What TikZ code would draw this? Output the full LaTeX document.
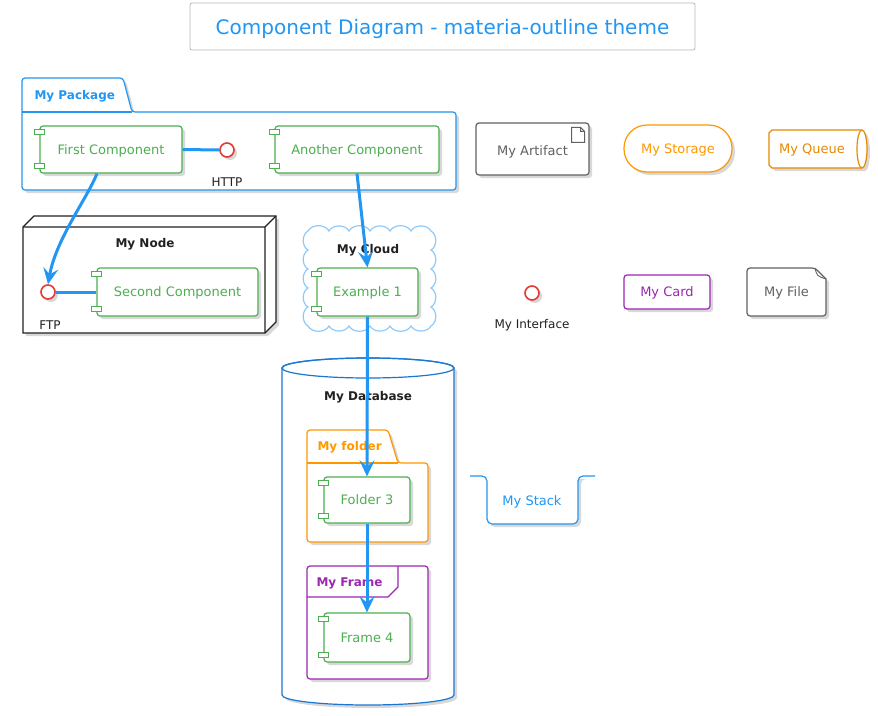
\documentclass[tikz,border=0pt]{standalone}
\usepackage{fontspec}
\setmainfont{DejaVu Sans}
\usepackage{xcolor}
\usetikzlibrary{arrows.meta,shadows}

\definecolor{mblue}{HTML}{2196F3}
\definecolor{mdb}{HTML}{1976D2}
\definecolor{mcloud}{HTML}{90CAF9}
\definecolor{mgreen}{HTML}{4CAF50}
\definecolor{mred}{HTML}{E53935}
\definecolor{morange}{HTML}{FF9800}
\definecolor{mqueue}{HTML}{E68A00}
\definecolor{mpurple}{HTML}{9C27B0}
\definecolor{mgray}{HTML}{616161}
\definecolor{mtext}{HTML}{212121}
\definecolor{mborder}{HTML}{B8B8B8}

\begin{document}
\begin{tikzpicture}[x=1pt,y=-1pt,
  every node/.style={font=\fontsize{13}{16}\selectfont,text depth=0pt},
  shadowed/.style={drop shadow={shadow xshift=3pt,shadow yshift=-3pt,opacity=.3}},
  comp/.style={
    rectangle,draw=mgreen,fill=white,text=mgreen,
    line width=1.2pt,rounded corners=3pt,
    minimum height=47pt,shadowed
  },
  tab/.style={draw=mgreen,fill=white,line width=.9pt},
  iface/.style={circle,draw=mred,fill=white,line width=1.6pt,minimum size=14pt,inner sep=0pt,shadowed},
  lbl/.style={font=\fontsize{12}{14}\selectfont,text=mtext},
  grp/.style={font=\bfseries\fontsize{12}{14}\selectfont},
  box/.style={fill=white,line width=1.2pt,rounded corners=3pt,shadowed},
  arrow/.style={-{Stealth[length=16pt,width=15pt,inset=6pt]},line width=3pt,draw=mblue},
  wire/.style={line width=3pt,draw=mblue}
]

\useasboundingbox (0,0) rectangle (878,715);
\fill[white] (0,0) rectangle (878,715);

\node[draw=mborder,line width=.8pt,text=mblue,font=\fontsize{20}{24}\selectfont,
  minimum width=505pt,minimum height=47pt,rounded corners=2pt] (title) at (442.5,26.5)
  {Component Diagram - materia-outline theme};

% containers
\draw[box,draw=mblue] (22,190) -- (22,78) -- (123,78) -- (132,112) -- (456,112) -- (456,190) -- cycle;
\draw[mblue,line width=1.2pt] (22,112) -- (132,112);
\node[grp,text=mblue,anchor=west] (pkglbl) at (31,95) {My Package};

\draw[box,draw=mtext,rounded corners=0pt] (23,333) -- (23,227) -- (34,216) -- (276,216) -- (276,322) -- (265,333) -- cycle;
\draw[mtext,line width=1.2pt] (23,227) -- (265,227) -- (265,333) (265,227) -- (276,216);
\node[grp,text=mtext] (nodelbl) at (145,243) {My Node};

\draw[mcloud,line width=1.2pt] (308,231)
  foreach \x in {329,349,370,390,411} {to[bend left=60] (\x,231)}
  to[bend left=60] (431,231)
  foreach \y in {250,269,288,307} {to[bend left=60] (431,\y)}
  to[bend left=60] (431,326)
  foreach \x in {411,390,370,349,329} {to[bend left=60] (\x,326)}
  to[bend left=60] (308,326)
  foreach \y in {307,288,269,250} {to[bend left=60] (308,\y)}
  to[bend left=60] (308,231);
\node[grp,text=mtext] (cloudlbl) at (368,249) {My Cloud};

\draw[box,draw=mdb,rounded corners=0pt] (282,368) -- (282,695)
  arc[start angle=180,end angle=360,x radius=86pt,y radius=10pt] -- (454,368)
  arc[start angle=0,end angle=180,x radius=86pt,y radius=10pt] -- cycle;
\draw[mdb,line width=1.2pt] (368,368) ellipse[x radius=86pt,y radius=10pt];
\node[grp,text=mtext] (dblbl) at (368,396) {My Database};

\draw[box,draw=morange] (307,542) -- (307,430) -- (388,430) -- (398,463) -- (428,463) -- (428,542) -- cycle;
\draw[morange,line width=1.2pt] (307,463) -- (398,463);
\node[grp,text=morange,anchor=west] (folderlbl) at (314,446) {My folder};

\draw[box,draw=mpurple] (307,566) rectangle (428,679);
\draw[mpurple,line width=1.2pt] (307,597) -- (388,597) -- (398,587) -- (398,566);
\node[grp,text=mpurple,anchor=west] (framelbl) at (313,582) {My Frame};

% components and interfaces
\node[comp,minimum width=142pt] (first) at (111,149.5) {First Component};
\node[comp,minimum width=164pt] (another) at (357,149.5) {Another Component};
\node[iface] (http) at (227,150) {};
\node[lbl] (httplbl) at (227,182) {HTTP};
\node[comp,minimum width=161pt,minimum height=48pt] (second) at (177.5,292) {Second Component};
\node[iface] (ftp) at (48,292) {};
\node[lbl] (ftplbl) at (50,325) {FTP};
\node[comp,minimum width=101pt,minimum height=48pt] (ex1) at (367.5,292) {Example 1};
\node[comp,minimum width=86pt,minimum height=46pt] (fold3) at (367,500) {Folder 3};
\node[comp,minimum width=86pt,minimum height=49pt] (frame4) at (367,637.5) {Frame 4};

\foreach \c in {first,another,second,ex1,fold3,frame4} {
  \draw[tab] ([xshift=-5pt,yshift=-4pt]\c.north west) rectangle ++(10,5);
  \draw[tab] ([xshift=-5pt,yshift=5pt]\c.south west) rectangle ++(10,-5);
}

% other elements
\node[box,draw=mgray,text=mgray,minimum width=113pt,minimum height=52pt] (artifact) at (532.5,149) {\raisebox{-3pt}{My Artifact}};
\draw[mgray,line width=.9pt] ([shift={(-18,5)}]artifact.north east) -- ++(9,0) -- ++(4,4) -- ++(0,11) -- ++(-13,0) -- cycle
  ([shift={(-9,5)}]artifact.north east) -- ++(0,4) -- ++(4,0);

\node[box,draw=morange,text=morange,rounded corners=23pt,minimum width=108pt,minimum height=47pt] (storage) at (678,148.5) {My Storage};

\draw[box,draw=mqueue,rounded corners=0pt] (862,130) -- (772,130) -- (769,133) -- (769,165) -- (772,168) -- (862,168)
  arc[start angle=270,end angle=450,x radius=5pt,y radius=19pt] -- cycle;
\draw[mqueue,line width=1.2pt] (862,130) arc[start angle=90,end angle=270,x radius=5pt,y radius=19pt];
\node[text=mqueue] (queue) at (812,149) {My Queue};

\node[iface] (myif) at (532,293) {};
\node[lbl] (myiflbl) at (532,324) {My Interface};

\node[box,draw=mpurple,text=mpurple,minimum width=86pt,minimum height=34pt] (card) at (667,292) {My Card};

\draw[box,draw=mgray] (747,316) -- (747,268) -- (815,268) [sharp corners] -- (826,279) [rounded corners=3pt] -- (826,316) -- cycle;
\draw[mgray,line width=.9pt] (815,268) .. controls (817,276) .. (826,279);
\node[text=mgray] (file) at (786.5,292) {My File};

\draw[box,draw=mblue,rounded corners=5pt] (470,476) -- (487,476) -- (487,524) -- (578,524) -- (578,476) -- (595,476);
\node[text=mblue] (stack) at (532,501) {My Stack};

% connectors
\draw[arrow] ([xshift=-14pt]first.south) .. controls +(-10,25) and +(8,-45) .. (ftp.north);
\draw[wire] (first.east) -- (http.west);
\draw[wire] (ftp.east) -- (second.west);
\draw[arrow] (another.south) -- (ex1.north);
\draw[arrow] (ex1.south) -- (fold3.north);
\draw[arrow] (fold3.south) -- (frame4.north);

\end{tikzpicture}
\end{document}
